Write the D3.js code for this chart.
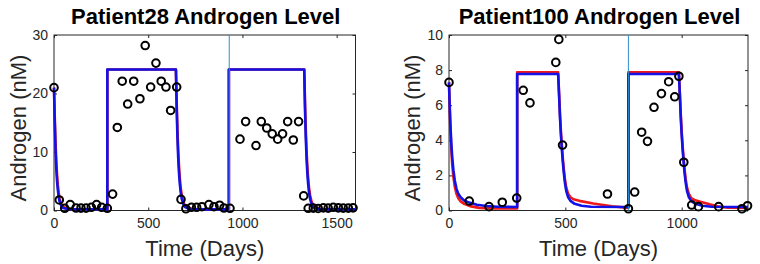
<!DOCTYPE html>
<html lang="en-US">
<head>
  <script src="https://d3js.org/d3.v7.min.js"></script>
  <style>
    body { margin: 0; background: #fff; }
    text { font-family: "Liberation Sans", Arial, Helvetica, sans-serif; }
  </style>
</head>
<body>

<svg width="760" height="264"></svg>

<script>
// ---- data ----
var titles = ["Patient28 Androgen Level", "Patient100 Androgen Level"];
var xLabel = "Time (Days)";
var yLabel = "Androgen (nM)";

var p28Ticks = {x: [0, 500, 1000, 1500], y: [0, 10, 20, 30]};
var p100Ticks = {x: [0, 500, 1000], y: [0, 2, 4, 6, 8, 10]};

// measured androgen (circles)
var p28Obs = [[0,21],[28,1.8],[57,0.38],[86,1.0],[117,0.43],[143,0.4],[170,0.4],[198,0.55],[226,1.0],[253,0.55],[283,0.38],
  [311,2.8],[336,14.2],[362,22.1],[391,18.2],[423,22.1],[456,19.1],[484,28.2],[513,21.1],[541,25.2],[569,22.1],[594,21.1],[619,17.1],[651,21.1],
  [674,1.9],[700,0.3],[729,0.55],[757,0.55],[785,0.65],[822,1.0],[849,0.65],[879,0.9],[902,0.43],[934,0.38],
  [987,12.2],[1017,15.2],[1072,11.1],[1100,15.2],[1129,14.1],[1158,13.1],[1187,12.2],[1213,13.1],[1240,15.2],[1270,12.05],[1298,15.2],
  [1325,2.5],[1349,0.38],[1376,0.4],[1402,0.35],[1429,0.45],[1455,0.4],[1482,0.55],[1509,0.45],[1535,0.4],[1562,0.4],[1587,0.45]];

var p100Obs = [[0,7.3],[87,0.54],[172,0.22],[229,0.47],[291,0.71],[319,6.85],[348,6.13],[459,8.44],[472,9.75],[488,3.73],
  [681,0.94],[771,0.1],[798,1.05],[828,4.46],[853,3.94],[881,5.88],[913,6.66],[944,7.34],[970,6.48],[988,7.65],[1009,2.75],
  [1043,0.31],[1072,0.22],[1159,0.22],[1259,0.1],[1283,0.27]];

// model fits (red and blue curves)
var p28Red = [[0,21],[4,16],[8,11.8],[12,8.5],[16,6.2],[20,4.5],[25,3],[30,2],[40,1],[50,0.6],[65,0.35],[90,0.25],[283,0.22],
  [283,24.1],[647,24.1],[651,18.5],[655,14],[659,10.4],[663,7.8],[667,5.8],[672,4],[678,2.6],[686,1.5],[696,0.85],[710,0.45],[730,0.28],[760,0.22],
  [928,0.22],[928,24.1],[1328,24.1],[1332,18.5],[1336,14],[1340,10.4],[1344,7.8],[1348,5.8],[1353,4],[1359,2.6],[1367,1.5],[1377,0.85],[1391,0.45],[1411,0.28],[1440,0.22],[1600,0.22]];
var p28Blue = [[0,21],[4,15],[8,10.5],[12,7.3],[16,5.1],[20,3.6],[25,2.3],[30,1.5],[40,0.7],[50,0.42],[65,0.28],[90,0.22],[283,0.2],
  [283,24.1],[647,24.1],[651,17.5],[655,12.6],[659,9.1],[663,6.6],[667,4.8],[672,3.2],[678,2],[686,1.1],[696,0.6],[710,0.35],[730,0.24],[760,0.2],
  [928,0.2],[928,24.1],[1328,24.1],[1332,17.5],[1336,12.6],[1340,9.1],[1344,6.6],[1348,4.8],[1353,3.2],[1359,2],[1367,1.1],[1377,0.6],[1391,0.35],[1411,0.24],[1440,0.2],[1600,0.2]];

var p100Red = [[0,7.3],[3,5.8],[6,4.6],[10,3.5],[14,2.6],[19,1.9],[25,1.35],[32,0.95],[40,0.7],[50,0.52],[65,0.38],[90,0.25],[130,0.15],[180,0.12],[293,0.12],
  [293,7.88],[469,7.88],[473,6.7],[477,5.5],[481,4.5],[485,3.7],[489,3.0],[493,2.4],[498,1.8],[504,1.3],[512,0.95],[522,0.75],[535,0.64],[560,0.55],[620,0.4],[700,0.24],[771,0.15],
  [771,7.88],[988,7.88],[992,6.7],[996,5.5],[1000,4.5],[1004,3.7],[1008,3.0],[1012,2.4],[1017,1.8],[1023,1.3],[1031,0.95],[1041,0.7],[1055,0.6],[1080,0.5],[1120,0.35],[1160,0.22],[1200,0.16],[1285,0.14]];
var p100Blue = [[0,7.3],[3,6.0],[6,4.9],[10,3.8],[14,3.0],[19,2.3],[25,1.7],[32,1.25],[40,0.95],[50,0.75],[65,0.57],[87,0.45],[120,0.33],[160,0.26],[210,0.21],[293,0.2],
  [293,7.78],[469,7.78],[473,6.6],[477,5.3],[481,4.3],[485,3.5],[489,2.8],[493,2.2],[498,1.6],[504,1.1],[512,0.75],[522,0.55],[540,0.38],[570,0.27],[610,0.21],[771,0.2],
  [771,7.78],[988,7.78],[992,6.6],[996,5.3],[1000,4.3],[1004,3.5],[1008,2.8],[1012,2.2],[1017,1.6],[1023,1.1],[1031,0.75],[1041,0.55],[1059,0.38],[1089,0.27],[1129,0.21],[1285,0.2]];

var p28Switch = 930, p100Switch = 771;
var p28XMax = 1600, p100XMax = 1285;
var p28YMax = 30, p100YMax = 10;

// ---- drawing ----
var svg = d3.select("svg");
var axisColor = "#262626";

function panel(cfg) {
  var x = d3.scaleLinear().domain([0, cfg.xMax]).range([cfg.left, cfg.right]);
  var y = d3.scaleLinear().domain([0, cfg.yMax]).range([210.5, 35]);
  var g = svg.append("g");

  // box with inward ticks on all four sides
  var tl = 3;
  g.append("g").attr("transform", "translate(0,210.5)")
    .call(d3.axisBottom(x).tickValues(cfg.ticks.x).tickSize(-tl).tickSizeOuter(0).tickPadding(8).tickFormat(d3.format("d")))
    .call(a => a.select(".domain").remove());
  g.append("g").attr("transform", "translate(0,35)")
    .call(d3.axisTop(x).tickValues(cfg.ticks.x).tickSize(-tl).tickSizeOuter(0).tickFormat(""))
    .call(a => a.select(".domain").remove());
  g.append("g").attr("transform", "translate(" + cfg.left + ",0)")
    .call(d3.axisLeft(y).tickValues(cfg.ticks.y).tickSize(-tl).tickSizeOuter(0).tickPadding(6).tickFormat(d3.format("d")))
    .call(a => a.select(".domain").remove());
  g.append("g").attr("transform", "translate(" + cfg.right + ",0)")
    .call(d3.axisRight(y).tickValues(cfg.ticks.y).tickSize(-tl).tickSizeOuter(0).tickFormat(""))
    .call(a => a.select(".domain").remove());
  g.selectAll(".tick line").attr("stroke", axisColor);
  g.selectAll(".tick text").attr("fill", axisColor).style("font-size", "14px")
    .style("font-family", "'Liberation Sans', Arial, sans-serif");

  g.append("rect")
    .attr("x", cfg.left).attr("y", 35)
    .attr("width", cfg.right - cfg.left).attr("height", 175.5)
    .attr("fill", "none").attr("stroke", axisColor).attr("stroke-width", 1);

  var line = d3.line().x(d => x(d[0])).y(d => y(d[1]));

  g.append("path").datum(cfg.red).attr("d", line)
    .attr("fill", "none").attr("stroke", "#f01818").attr("stroke-width", 2.6).attr("stroke-linejoin", "round");
  g.append("path").datum(cfg.blue).attr("d", line)
    .attr("fill", "none").attr("stroke", "#1212e8").attr("stroke-width", 2.6).attr("stroke-linejoin", "round");

  g.append("line")
    .attr("x1", x(cfg.sw)).attr("x2", x(cfg.sw))
    .attr("y1", 35).attr("y2", 210.5)
    .attr("stroke", "#2f8fcb").attr("stroke-width", 1);

  g.selectAll("circle.obs").data(cfg.obs).enter().append("circle")
    .attr("class", "obs")
    .attr("cx", d => x(d[0])).attr("cy", d => y(d[1]))
    .attr("r", 3.8)
    .attr("fill", "none").attr("stroke", "#000").attr("stroke-width", 2);

  var cx = (cfg.left + cfg.right) / 2;
  g.append("text").text(cfg.title)
    .attr("x", cx + 1).attr("y", 24)
    .attr("text-anchor", "middle")
    .style("font-size", "22px").style("font-weight", "bold").attr("fill", "#000");
  g.append("text").text(xLabel)
    .attr("x", cx).attr("y", 256)
    .attr("text-anchor", "middle")
    .style("font-size", "22px").attr("fill", axisColor);
  g.append("text").text(yLabel)
    .attr("transform", "translate(" + cfg.ylx + ",128) rotate(-90)")
    .attr("text-anchor", "middle")
    .style("font-size", "22px").attr("fill", axisColor);
}

panel({left: 54, right: 355.5, xMax: p28XMax, yMax: p28YMax, ticks: p28Ticks,
  obs: p28Obs, red: p28Red, blue: p28Blue, sw: p28Switch, title: titles[0], ylx: 26});
panel({left: 449, right: 748, xMax: p100XMax, yMax: p100YMax, ticks: p100Ticks,
  obs: p100Obs, red: p100Red, blue: p100Blue, sw: p100Switch, title: titles[1], ylx: 420});
</script>
</body>
</html>
